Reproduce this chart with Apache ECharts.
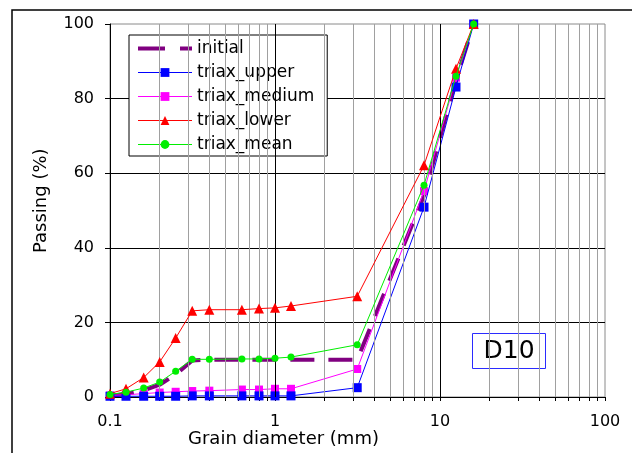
<!DOCTYPE html>
<html><head><meta charset="utf-8">
<script src="https://cdn.jsdelivr.net/npm/echarts@6/dist/echarts.min.js"></script>
<style>html,body{margin:0;padding:0;background:#fff}#c{width:632px;height:453px}</style>
</head><body><div id="c"></div>
<script>
const sizes = [0.1, 0.125, 0.16, 0.2, 0.25, 0.315, 0.4, 0.63, 0.8, 1, 1.25, 3.15, 8, 12.5, 16];
const initial = [0.3, 0.8, 1.8, 3.3, 6.0, 9.8, 10, 10, 10, 10, 10, 10, 54.0, 85.0, 100];
const triaxUpper = [0.2, 0.2, 0.2, 0.2, 0.2, 0.3, 0.3, 0.3, 0.3, 0.3, 0.3, 2.5, 50.9, 83.1, 100];
const triaxMedium = [0.4, 0.6, 0.9, 1.2, 1.4, 1.6, 1.7, 2.0, 2.0, 2.2, 2.2, 7.5, 55.2, 85.6, 100];
const triaxLower = [0.9, 2.2, 5.2, 9.4, 15.8, 23.1, 23.4, 23.4, 23.7, 23.9, 24.4, 27.0, 62.1, 88.0, 100];
const triaxMean = [0.7, 1.3, 2.4, 4.0, 6.9, 10.1, 10.1, 10.2, 10.2, 10.4, 10.7, 14.0, 56.8, 86.0, 100];
const xMajorTicks = [0.1, 1, 10, 100];
const xMinorTicks = [0.2,0.3,0.4,0.5,0.6,0.7,0.8,0.9,2,3,4,5,6,7,8,9,20,30,40,50,60,70,80,90];
const yTicks = [0, 20, 40, 60, 80, 100];

const pairs = v => sizes.map((s, i) => [s, v[i]]);
const FONT = 'DejaVu Sans';

const gridLines = []
  .concat(xMinorTicks.map(v => ({ xAxis: v, lineStyle: { color: '#a0a0a0', width: 1, type: 'solid' } })))
  .concat([1, 10].map(v => ({ xAxis: v, lineStyle: { color: '#000', width: 1, type: 'solid' } })));

const chart = echarts.init(document.getElementById('c'));
chart.setOption({
  animation: false,
  backgroundColor: '#fff',
  grid: { left: 110, right: 27, top: 24, bottom: 56, show: true, borderColor: '#8a8a8a', borderWidth: 1 },
  xAxis: {
    type: 'log', logBase: 10, min: 0.1, max: 100,
    axisLine: { show: true, lineStyle: { color: '#000', width: 1 } },
    axisTick: { show: true, length: 4, lineStyle: { color: '#000' },
      customValues: xMajorTicks.concat(xMinorTicks).sort((a, b) => a - b) },
    axisLabel: { customValues: xMajorTicks, color: '#000', fontFamily: FONT, fontSize: 16, margin: 17,
      formatter: v => String(v) },
    splitLine: { show: false }
  },
  yAxis: {
    type: 'value', min: 0, max: 100, interval: 20,
    axisLine: { show: true, lineStyle: { color: '#000', width: 1 } },
    axisTick: { show: true, length: 5, lineStyle: { color: '#000' } },
    axisLabel: { color: '#000', fontFamily: FONT, fontSize: 16, margin: 16 },
    splitLine: { show: true, showMaxLine: false, showMinLine: false, lineStyle: { color: '#000', width: 1 } }
  },
  legend: {
    orient: 'vertical', left: 129, top: 35,
    itemWidth: 54, itemHeight: 11, itemGap: 7,
    padding: [5, 13, 3, 7],
    borderColor: '#000', borderWidth: 1, backgroundColor: '#fff',
    textStyle: { fontFamily: FONT, fontSize: 17, color: '#000' },
    data: [
      { name: 'initial', lineStyle: { width: 4, color: '#800080', type: [27, 15] } },
      { name: 'triax_upper', lineStyle: { width: 1 } },
      { name: 'triax_medium', lineStyle: { width: 1 } },
      { name: 'triax_lower', lineStyle: { width: 1 } },
      { name: 'triax_mean', lineStyle: { width: 1 } }
    ]
  },
  graphic: [
    { type: 'rect', shape: { x: 12, y: 10, width: 800, height: 600 }, style: { fill: 'none', stroke: '#000', lineWidth: 1.5 }, z: 100 },
    { type: 'text', left: 188, top: 430, style: { text: 'Grain diameter (mm)', font: '18px "DejaVu Sans"', fill: '#000' }, z: 100 },
    { type: 'text', x: 32, y: 253, rotation: Math.PI / 2, style: { text: 'Passing (%)', font: '18px "DejaVu Sans"', fill: '#000' }, z: 100 },
    { type: 'group', left: 472, top: 333, z: 100, children: [
      { type: 'rect', shape: { x: 0, y: 0, width: 73, height: 35 }, style: { fill: '#fff', stroke: '#2b2bff', lineWidth: 1 } },
      { type: 'text', x: 36.5, y: 18, style: { text: 'D10', font: '25px "DejaVu Sans"', fill: '#000', align: 'center', verticalAlign: 'middle' } }
    ] }
  ],
  series: [
    { name: 'gridlines', type: 'line', data: [], z: 1, silent: true,
      markLine: { silent: true, symbol: ['none', 'none'], label: { show: false }, animation: false, data: gridLines } },
    { name: 'initial', type: 'line', data: pairs(initial), symbol: 'none', z: 2,
      lineStyle: { color: '#800080', width: 4, type: [24, 14] },
      itemStyle: { color: 'rgba(0,0,0,0)', borderWidth: 0, opacity: 0 } },
    { name: 'triax_medium', type: 'line', data: pairs(triaxMedium), symbol: 'rect', symbolSize: 8, z: 3,
      lineStyle: { color: '#ff00ff', width: 1 }, itemStyle: { color: '#ff00ff' } },
    { name: 'triax_upper', type: 'line', data: pairs(triaxUpper), symbol: 'rect', symbolSize: 9, z: 4,
      lineStyle: { color: '#0000ff', width: 1 }, itemStyle: { color: '#0000ff' } },
    { name: 'triax_lower', type: 'line', data: pairs(triaxLower), symbol: 'triangle', symbolSize: 10, z: 5,
      lineStyle: { color: '#ff0000', width: 1 }, itemStyle: { color: '#ff0000' } },
    { name: 'triax_mean', type: 'line', data: pairs(triaxMean), symbol: 'circle', symbolSize: 7, z: 6,
      lineStyle: { color: '#00ee00', width: 1 }, itemStyle: { color: '#00ee00' } }
  ]
});
</script></body></html>
